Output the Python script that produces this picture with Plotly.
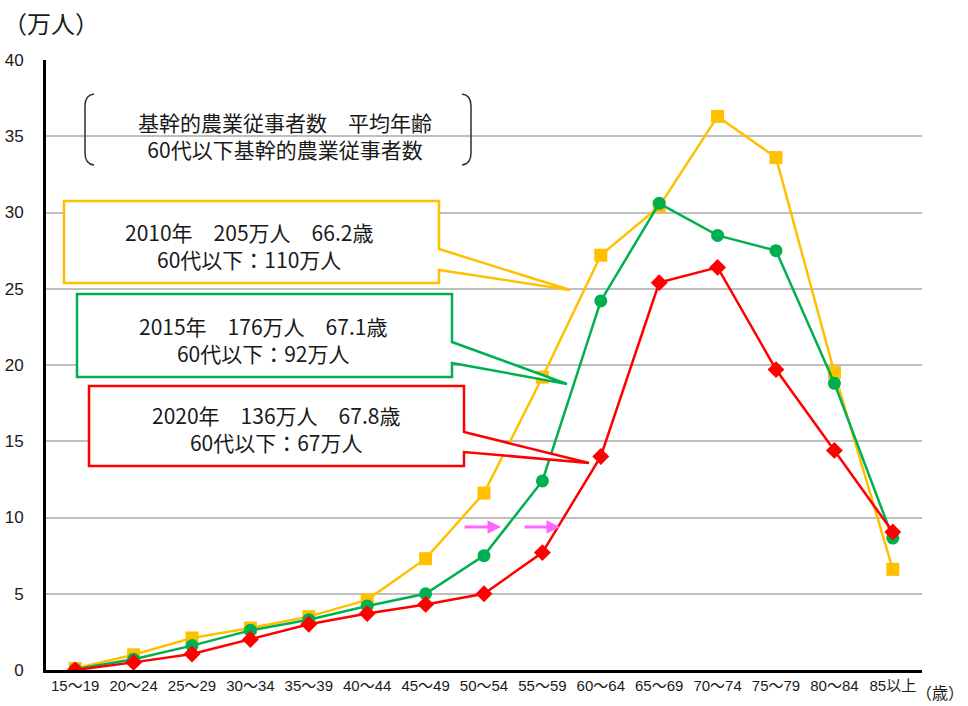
import plotly.graph_objects as go

# ---- data ----
age_groups = ["15～19", "20～24", "25～29", "30～34", "35～39", "40～44", "45～49",
              "50～54", "55～59", "60～64", "65～69", "70～74", "75～79", "80～84", "85以上"]
y2010 = [0.1, 1.0, 2.1, 2.75, 3.5, 4.6, 7.3, 11.6, 19.2, 27.2, 30.4, 36.3, 33.6, 19.5, 6.6]
y2015 = [0.05, 0.7, 1.6, 2.6, 3.3, 4.2, 5.0, 7.5, 12.4, 24.2, 30.6, 28.5, 27.5, 18.8, 8.65]
y2020 = [0.0, 0.5, 1.05, 2.0, 3.0, 3.7, 4.3, 5.0, 7.7, 14.0, 25.4, 26.4, 19.7, 14.4, 9.05]
y_ticks = [0, 5, 10, 15, 20, 25, 30, 35, 40]

W, H = 968, 706
L, R, T, B = 46, 46, 60, 36
PW, PH = W - L - R, H - T - B

def px(x):
    return (x - L) / PW

def py(y):
    return (H - B - y) / PH

YEL, GRN, RED = "#FFC000", "#00B050", "#FF0000"
JP = "Noto Sans CJK JP"
NARROW = "Liberation Sans Narrow, Liberation Sans, Noto Sans CJK JP"
SP = "\u3000"

fig = go.Figure()
fig.add_trace(go.Scatter(x=age_groups, y=y2010, mode="lines+markers", name="2010",
                         line=dict(color=YEL, width=2.5),
                         marker=dict(symbol="square", size=13, color=YEL)))
fig.add_trace(go.Scatter(x=age_groups, y=y2015, mode="lines+markers", name="2015",
                         line=dict(color=GRN, width=2.5),
                         marker=dict(symbol="circle", size=13, color=GRN)))
fig.add_trace(go.Scatter(x=age_groups, y=y2020, mode="lines+markers", name="2020",
                         line=dict(color=RED, width=2.5),
                         marker=dict(symbol="diamond", size=13, color=RED)))

shapes = []
# white areas hiding gridlines (text box backgrounds)
for x0, x1, yc in [(172, 462, 136), (64, 461, 212), (113, 347, 288), (77, 548, 365), (89, 508, 441)]:
    shapes.append(dict(type="rect", xref="paper", yref="paper", layer="between",
                       x0=px(x0), x1=px(x1), y0=py(yc + 4), y1=py(yc - 4),
                       fillcolor="white", line=dict(width=0)))

def callout(x0, y0, x1, y1, b0, b1, tx, ty, color):
    pts = [(x0, y0), (x1, y0), (x1, b0), (tx, ty), (x1, b1), (x1, y1), (x0, y1)]
    path = "M " + " L ".join(f"{px(a):.5f},{py(b):.5f}" for a, b in pts) + " Z"
    return dict(type="path", xref="paper", yref="paper", path=path, layer="above",
                fillcolor="white", line=dict(color=color, width=2.5))

shapes.append(callout(64, 201, 439, 283, 249, 270, 570, 290, YEL))
shapes.append(callout(77, 294, 452, 377, 342, 363, 567, 384, GRN))
shapes.append(callout(89, 386, 464, 466, 432, 452, 589, 463, RED))

# brackets
lb = (f"M {px(94):.5f},{py(94):.5f} Q {px(85):.5f},{py(95):.5f} {px(85):.5f},{py(106):.5f} "
      f"L {px(85):.5f},{py(153):.5f} Q {px(85):.5f},{py(164):.5f} {px(94):.5f},{py(165):.5f}")
rb = (f"M {px(462):.5f},{py(94):.5f} Q {px(471):.5f},{py(95):.5f} {px(471):.5f},{py(106):.5f} "
      f"L {px(471):.5f},{py(153):.5f} Q {px(471):.5f},{py(164):.5f} {px(462):.5f},{py(165):.5f}")
for p in (lb, rb):
    shapes.append(dict(type="path", xref="paper", yref="paper", path=p, layer="above",
                       line=dict(color="#303030", width=1.5)))

annotations = []
def txt(x, y, s, size, anchor="center", color="#1a1a1a", font=JP):
    annotations.append(dict(x=px(x), y=py(y), xref="paper", yref="paper", text=s,
                            showarrow=False, xanchor=anchor, yanchor="middle", align="center",
                            font=dict(family=font, size=size, color=color)))

FS = 21
txt(285, 135, "基幹的農業従事者数" + SP + "平均年齢<br>60代以下基幹的農業従事者数", FS)
txt(249, 245, "2010年" + SP + "205万人" + SP + "66.2歳<br>60代以下：110万人", FS)
txt(263, 339, "2015年" + SP + "176万人" + SP + "67.1歳<br>60代以下：92万人", FS)
txt(276, 428, "2020年" + SP + "136万人" + SP + "67.8歳<br>60代以下：67万人", FS)
txt(51, 22, "（万人）", 24)
txt(966, 692, "（歳）", 16, anchor="right")

# pink arrows
for x0, x1 in [(463, 501), (523, 560)]:
    annotations.append(dict(x=px(x1), y=py(527), xref="paper", yref="paper",
                            ax=x0 - x1, ay=0,
                            text="", showarrow=True, arrowhead=2, arrowsize=0.9,
                            arrowwidth=3, arrowcolor="#FF66FF"))

fig.update_layout(
    width=W, height=H, margin=dict(l=L, r=R, t=T, b=B, autoexpand=False),
    plot_bgcolor="white", paper_bgcolor="white", showlegend=False,
    shapes=shapes, annotations=annotations,
    xaxis=dict(type="category", range=[-0.5, 14.5], showgrid=False, showline=True,
               linecolor="black", linewidth=3, ticks="", zeroline=False, automargin=False,
               tickfont=dict(family=NARROW, size=15, color="#1a1a1a")),
    yaxis=dict(range=[0, 40], tickvals=y_ticks, showgrid=True, gridcolor="#BFBFBF",
               gridwidth=2, showline=True, linecolor="black", linewidth=3, ticks="",
               zeroline=False, ticklabelstandoff=16, automargin=False,
               tickfont=dict(family=NARROW, size=17, color="#1a1a1a")),
)

fig.write_html("out.html", config={"displayModeBar": False},
               post_script="document.body.style.margin='0';")
